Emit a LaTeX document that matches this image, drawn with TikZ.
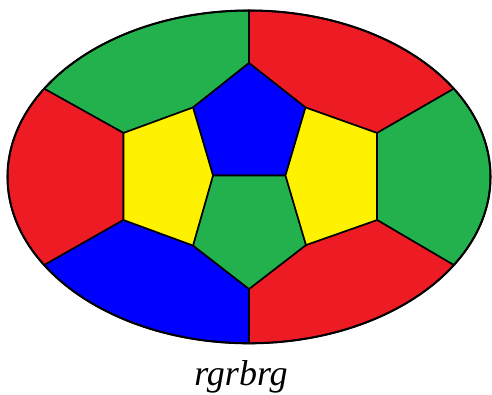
\documentclass[tikz,border=0pt]{standalone}
\usepackage{fontspec}
\setmainfont{Liberation Serif}
\definecolor{mapred}{HTML}{ED1C24}
\definecolor{mapgreen}{HTML}{22B14C}
\definecolor{mapblue}{HTML}{0000FF}
\definecolor{mapyellow}{HTML}{FFF200}

\begin{document}
\begin{tikzpicture}[
  x=1pt, y=1pt,
  region/.style={draw=black, line width=1.6pt, line join=round},
  oval/.style={x radius=241.5pt, y radius=166.4pt},
  rim/.style={draw=black, line width=2pt},
  caption/.style={font=\fontsize{36}{36}\selectfont\itshape, inner sep=0pt, anchor=base}
]
\useasboundingbox (0,0) rectangle (492,394);

\coordinate (c) at (249,217.1);
\foreach \a in {32,90,148,212,270,328}
  \path (c) ++(\a:241.5pt and 166.4pt) coordinate (e\a);

% inner pentagon corners
\coordinate (bt)  at (249,331);
\coordinate (bl)  at (193,286.5);
\coordinate (br)  at (305.5,286.5);
\coordinate (bbl) at (213,218.5);
\coordinate (bbr) at (285.5,218.5);
\coordinate (gl)  at (193,148.5);
\coordinate (gr)  at (306,149);
\coordinate (gb)  at (249,105);
\coordinate (ylt) at (123.5,261);
\coordinate (ylb) at (123.5,174);
\coordinate (yrt) at (377,261);
\coordinate (yrb) at (377,174);

% outer ring
\filldraw[region, fill=mapgreen] (e90) arc[start angle=90, end angle=148, oval]
  -- (ylt) -- (bl) -- (bt) -- cycle;
\filldraw[region, fill=mapred] (e32) arc[start angle=32, end angle=90, oval]
  -- (bt) -- (br) -- (yrt) -- cycle;
\filldraw[region, fill=mapred] (e148) arc[start angle=148, end angle=212, oval]
  -- (ylb) -- (ylt) -- cycle;
\filldraw[region, fill=mapgreen] (e328) arc[start angle=-32, end angle=32, oval]
  -- (yrt) -- (yrb) -- cycle;
\filldraw[region, fill=mapblue] (e212) arc[start angle=212, end angle=270, oval]
  -- (gb) -- (gl) -- (ylb) -- cycle;
\filldraw[region, fill=mapred] (e270) arc[start angle=270, end angle=328, oval]
  -- (yrb) -- (gr) -- (gb) -- cycle;

% inner ring
\filldraw[region, fill=mapblue] (bt) -- (br) -- (bbr) -- (bbl) -- (bl) -- cycle;
\filldraw[region, fill=mapgreen] (bbl) -- (bbr) -- (gr) -- (gb) -- (gl) -- cycle;
\filldraw[region, fill=mapyellow] (bl) -- (bbl) -- (gl) -- (ylb) -- (ylt) -- cycle;
\filldraw[region, fill=mapyellow] (br) -- (yrt) -- (yrb) -- (gr) -- (bbr) -- cycle;

\draw[rim] (c) ellipse[oval];

\node[caption] (word) at (241,9) {rgrbrg};
\end{tikzpicture}
\end{document}
